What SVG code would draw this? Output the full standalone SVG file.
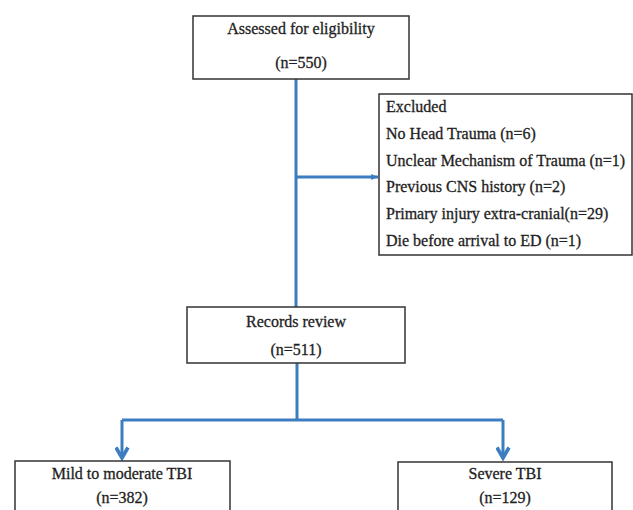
<svg xmlns="http://www.w3.org/2000/svg" width="633" height="510" viewBox="0 0 633 510">
<style>
.box{fill:#fff;stroke:#333;stroke-width:1.5}
.t{font-family:"Liberation Serif","Times New Roman",serif;font-size:16px;fill:#1e1e1e;stroke:#1e1e1e;stroke-width:0.3}
.c{text-anchor:middle}
.ln{fill:none;stroke:#3b7dbf;stroke-width:3}
</style>
<defs>
<marker id="ah" viewBox="0 0 10 10" refX="8" refY="5" markerWidth="5" markerHeight="5" orient="auto" markerUnits="strokeWidth">
<path d="M1,1 L8,5 L1,9" fill="none" stroke="#3b7dbf" stroke-width="2.4"/>
</marker>
<marker id="as" viewBox="0 0 10 10" refX="9" refY="5" markerWidth="2.5" markerHeight="2.5" orient="auto" markerUnits="strokeWidth">
<path d="M0,1 L9,5 L0,9 z" fill="#3b7dbf"/>
</marker>
</defs>
<rect width="633" height="510" fill="#fff"/>
<g id="connectors">
<path class="ln" d="M296,79 V307"/>
<path class="ln" d="M296,177 H378" marker-end="url(#as)"/>
<path class="ln" d="M297,363 V420"/>
<path class="ln" d="M122,420 H503"/>
<path class="ln" d="M122,420 V458" marker-end="url(#ah)"/>
<path class="ln" d="M503,420 V458" marker-end="url(#ah)"/>
</g>
<g id="assessed">
<rect class="box" x="193" y="16" width="216" height="63"/>
<text class="t c" x="301" y="34">Assessed for eligibility</text>
<text class="t c" x="301" y="68">(n=550)</text>
</g>
<g id="excluded">
<rect class="box" x="379" y="94" width="253" height="161"/>
<text class="t" x="386" y="112">Excluded</text>
<text class="t" x="386" y="139">No Head Trauma (n=6)</text>
<text class="t" x="386" y="166">Unclear Mechanism of Trauma (n=1)</text>
<text class="t" x="386" y="192">Previous CNS history (n=2)</text>
<text class="t" x="386" y="219">Primary injury extra-cranial(n=29)</text>
<text class="t" x="386" y="246">Die before arrival to ED (n=1)</text>
</g>
<g id="records">
<rect class="box" x="187" y="307" width="218" height="56"/>
<text class="t c" x="296" y="327">Records review</text>
<text class="t c" x="296" y="355">(n=511)</text>
</g>
<g id="mild">
<rect class="box" x="15" y="461" width="215" height="60"/>
<text class="t c" x="122" y="479">Mild to moderate TBI</text>
<text class="t c" x="122" y="503">(n=382)</text>
</g>
<g id="severe">
<rect class="box" x="398" y="462" width="214" height="60"/>
<text class="t c" x="505" y="479">Severe TBI</text>
<text class="t c" x="505" y="503">(n=129)</text>
</g>
</svg>
